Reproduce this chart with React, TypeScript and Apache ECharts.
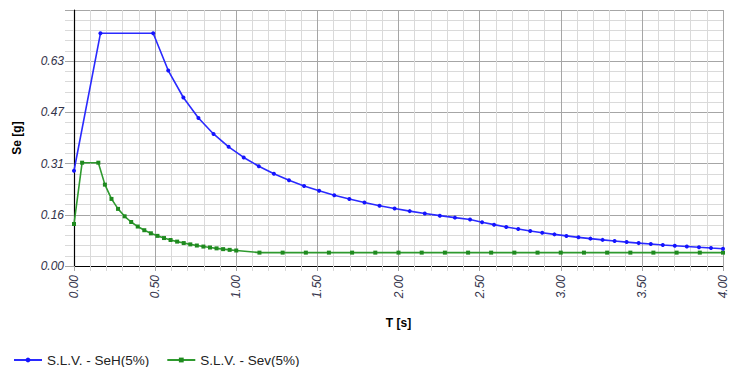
import React, { useEffect, useRef } from "react";
import * as echarts from "echarts";

// Periods (s) and spectral accelerations (g)
const periodsH: number[] = [
  0, 0.163, 0.488, 0.581, 0.674, 0.767, 0.86, 0.953, 1.046, 1.139, 1.232, 1.325, 1.418,
  1.511, 1.604, 1.697, 1.79, 1.883, 1.976, 2.069, 2.162, 2.255, 2.348, 2.441, 2.515,
  2.589, 2.664, 2.738, 2.812, 2.886, 2.961, 3.035, 3.109, 3.183, 3.258, 3.332, 3.406,
  3.48, 3.555, 3.629, 3.703, 3.777, 3.852, 3.926, 4.0,
];
const seH: number[] = [
  0.292, 0.7136, 0.7136, 0.5994, 0.5167, 0.454, 0.4049, 0.3654, 0.3329, 0.3057, 0.2827,
  0.2628, 0.2456, 0.2305, 0.2171, 0.2052, 0.1945, 0.1849, 0.1762, 0.1683, 0.1611, 0.1544,
  0.1483, 0.1427, 0.1344, 0.1268, 0.1198, 0.1134, 0.1075, 0.1021, 0.097, 0.0923, 0.0879,
  0.0839, 0.0801, 0.0766, 0.0733, 0.0702, 0.0673, 0.0645, 0.062, 0.0596, 0.0573, 0.0551,
  0.0531,
];

const periodsV: number[] = [
  0, 0.05, 0.15, 0.1905, 0.231, 0.2714, 0.3119, 0.3524, 0.3929, 0.4333, 0.4738, 0.5143,
  0.5548, 0.5952, 0.6357, 0.6762, 0.7167, 0.7571, 0.7976, 0.8381, 0.8786, 0.919, 0.9595,
  1.0, 1.143, 1.286, 1.429, 1.571, 1.714, 1.857, 2.0, 2.143, 2.286, 2.429, 2.571, 2.714,
  2.857, 3.0, 3.143, 3.286, 3.429, 3.571, 3.714, 3.857, 4.0,
];
const seV: number[] = [
  0.1288, 0.3168, 0.3168, 0.2495, 0.2057, 0.1751, 0.1524, 0.1349, 0.121, 0.1097, 0.1003,
  0.0924, 0.0857, 0.0798, 0.0748, 0.0703, 0.0663, 0.0628, 0.0596, 0.0567, 0.0541, 0.0517,
  0.0495, 0.0475, 0.041, 0.041, 0.041, 0.041, 0.041, 0.041, 0.041, 0.041, 0.041, 0.041,
  0.041, 0.041, 0.041, 0.041, 0.041, 0.041, 0.041, 0.041, 0.041, 0.041, 0.041,
];

const seriesNames: string[] = ["S.L.V. - SeH(5%)", "S.L.V. - Sev(5%)"];
const xTickLabels: string[] = ["0.00", "0.50", "1.00", "1.50", "2.00", "2.50", "3.00", "3.50", "4.00"];
const yTickLabels: string[] = ["0.00", "0.16", "0.31", "0.47", "0.63", "0.79"];
const xStep = 0.5;
const yStep = 0.157;

const FONT = "'Liberation Sans', Arial, sans-serif";

export default function App() {
  const ref = useRef<HTMLDivElement>(null);

  useEffect(() => {
    if (!ref.current) return;
    const chart = echarts.init(ref.current, undefined, { renderer: "svg" });
    const major = "#a6a6a6";
    const minor = "#dadada";
    chart.setOption({
      animation: false,
      backgroundColor: "#ffffff",
      textStyle: { fontFamily: FONT },
      grid: { left: 74, right: 5, top: 10, bottom: 101, containLabel: false },
      legend: {
        left: 8,
        top: 348,
        padding: [5, 5, 5, 5],
        itemWidth: 28,
        itemHeight: 6,
        itemGap: 17,
        textStyle: { fontSize: 13.5, color: "#222", fontFamily: FONT },
        data: seriesNames,
      },
      xAxis: {
        type: "value",
        min: 0,
        max: 4,
        interval: xStep,
        name: "T [s]",
        nameLocation: "middle",
        nameGap: 51,
        nameTextStyle: { fontWeight: "bold", fontSize: 12, color: "#000", fontFamily: FONT },
        axisLine: { show: true, onZero: false, lineStyle: { color: "#000", width: 1.2 } },
        axisTick: { show: true, length: 5, lineStyle: { color: major } },
        minorTick: { show: true, splitNumber: 5, length: 5, lineStyle: { color: minor } },
        splitLine: { show: true, lineStyle: { color: major, width: 1 } },
        minorSplitLine: { show: true, lineStyle: { color: minor, width: 1 } },
        axisLabel: {
          rotate: 90,
          margin: 9,
          fontSize: 12,
          fontStyle: "italic",
          color: "#33334a",
          fontFamily: FONT,
          formatter: (v: number) => xTickLabels[Math.round(v / xStep)] ?? "",
        },
      },
      yAxis: {
        type: "value",
        min: 0,
        max: yStep * 5,
        interval: yStep,
        name: "Se [g]",
        nameLocation: "middle",
        nameGap: 51,
        nameTextStyle: { fontWeight: "bold", fontSize: 12, color: "#000", fontFamily: FONT },
        axisLine: { show: true, onZero: false, lineStyle: { color: "#000", width: 1.2 } },
        axisTick: { show: true, length: 9, lineStyle: { color: major } },
        minorTick: { show: true, splitNumber: 5, length: 9, lineStyle: { color: minor } },
        splitLine: { show: true, lineStyle: { color: major, width: 1 } },
        minorSplitLine: { show: true, lineStyle: { color: minor, width: 1 } },
        axisLabel: {
          margin: 10,
          fontSize: 12,
          fontStyle: "italic",
          color: "#33334a",
          fontFamily: FONT,
          showMaxLabel: false,
          formatter: (v: number) => yTickLabels[Math.round(v / yStep)] ?? "",
        },
      },
      series: [
        {
          name: seriesNames[0],
          type: "line",
          data: periodsH.map((t, i) => [t, seH[i]]),
          symbol: "circle",
          symbolSize: 4,
          showSymbol: true,
          lineStyle: { color: "#2a2aff", width: 1.6 },
          itemStyle: { color: "#1414ff" },
          z: 3,
        },
        {
          name: seriesNames[1],
          type: "line",
          data: periodsV.map((t, i) => [t, seV[i]]),
          symbol: "rect",
          symbolSize: 4,
          showSymbol: true,
          lineStyle: { color: "#2f9a2f", width: 1.6 },
          itemStyle: { color: "#1f8a1f" },
          z: 2,
        },
      ],
    });
    return () => chart.dispose();
  }, []);

  return (
    <div
      ref={ref}
      style={{ position: "fixed", left: 0, top: 0, width: 729, height: 367, background: "#fff" }}
    />
  );
}
